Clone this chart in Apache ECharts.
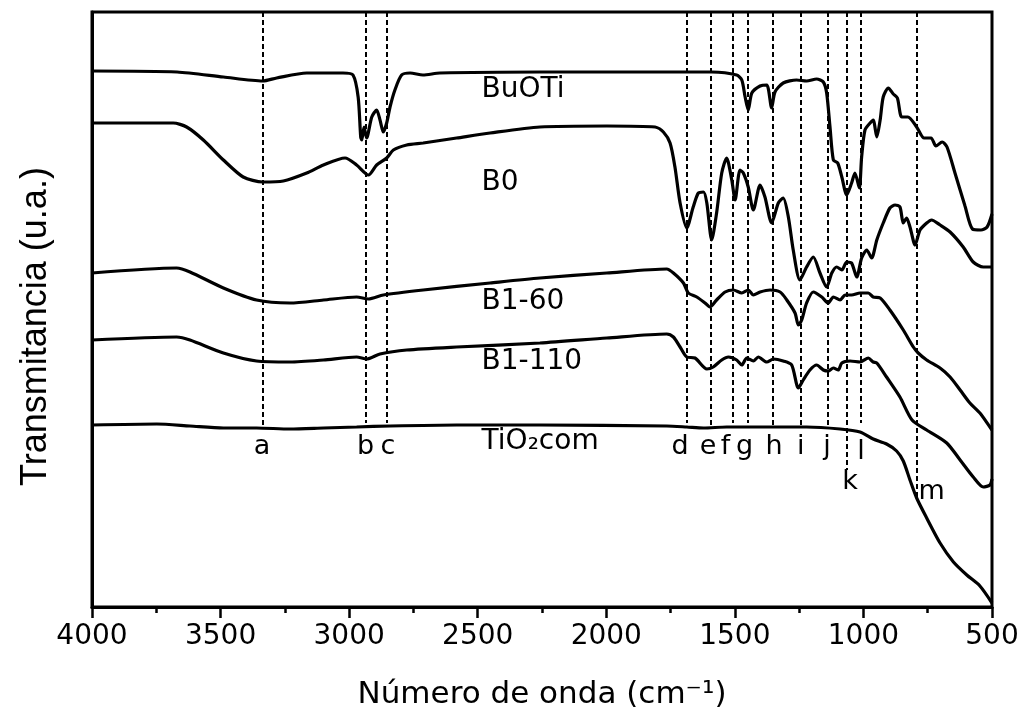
<!DOCTYPE html>
<html><head><meta charset="utf-8">
<script src="https://cdn.jsdelivr.net/npm/echarts@6/dist/echarts.min.js"></script>
<style>html,body{margin:0;padding:0;background:#fff}#c{width:1027px;height:719px}</style>
</head><body><div id="c"></div>
<script>
// ---- data (wavenumber cm-1, transmittance in arbitrary units, offset per curve) ----
const seriesNames = ['BuOTi', 'B0', 'B1-60', 'B1-110', 'TiO₂com'];

const buoti = [[4000,536],[3669,535],[3489,530],[3336,526],[3282,529],[3165,534],[3024,534],[2985,532],[2965,510],[2955,470],[2951,467],[2942,480],[2932,469],[2912,490],[2893,497],[2880,487],[2867,475],[2854,484],[2841,500],[2822,517],[2796,532],[2763,534],[2713,532],[2647,534],[2258,535],[1687,535],[1590,535],[1493,532],[1473,527],[1460,510],[1448,497],[1434,514],[1402,521],[1376,522],[1357,499],[1344,515],[1312,524],[1260,527],[1221,526],[1182,528],[1156,525],[1143,514],[1130,480],[1117,447],[1100,444],[1084,430],[1065,412],[1046,424],[1033,434],[1016,419],[1007,450],[994,477],[974,484],[962,487],[948,470],[935,487],[923,510],[903,519],[884,513],[868,509],[851,490],[827,490],[793,480],[764,469],[737,469],[718,461],[694,465],[675,460],[644,434],[605,401],[576,378],[543,377],[519,380],[500,393]];

const b0 = [[4000,484],[3684,484],[3632,480],[3567,467],[3489,447],[3412,430],[3336,425],[3256,426],[3165,434],[3100,442],[3016,449],[2971,442],[2925,432],[2893,442],[2854,449],[2828,457],[2776,462],[2712,464],[2582,469],[2452,474],[2258,480],[1998,481],[1810,480],[1778,475],[1752,464],[1733,440],[1713,404],[1687,379],[1662,400],[1642,414],[1622,415],[1609,404],[1590,367],[1571,394],[1551,434],[1532,449],[1512,427],[1499,407],[1480,437],[1467,434],[1448,420],[1428,397],[1402,422],[1383,410],[1357,384],[1331,404],[1312,409],[1292,390],[1273,357],[1247,327],[1221,340],[1195,350],[1169,334],[1143,320],[1123,334],[1104,340],[1084,337],[1065,345],[1046,344],[1026,330],[1007,349],[987,357],[968,349],[948,367],[923,384],[897,399],[877,402],[858,400],[845,384],[832,389],[819,380],[799,362],[780,377],[754,384],[735,387],[702,382],[663,375],[612,360],[573,345],[534,340],[500,340]];

const b160 = [[4000,334],[3671,339],[3619,335],[3489,319],[3360,307],[3230,304],[3100,307],[2971,310],[2925,308],[2867,312],[2712,317],[2452,324],[2258,329],[1998,334],[1765,338],[1739,334],[1700,324],[1681,314],[1648,310],[1616,304],[1597,300],[1571,307],[1538,315],[1506,317],[1473,314],[1448,317],[1428,312],[1402,315],[1363,317],[1324,315],[1298,307],[1266,294],[1253,282],[1240,287],[1221,304],[1195,315],[1162,310],[1137,304],[1117,310],[1091,307],[1071,312],[1046,312],[1013,314],[981,314],[962,310],[935,309],[897,297],[845,277],[806,260],[787,254],[754,247],[702,239],[663,230],[624,217],[586,204],[547,194],[508,180],[500,177]];

const b1110 = [[4000,267],[3671,270],[3619,267],[3489,254],[3360,246],[3230,245],[3100,247],[2971,250],[2932,248],[2880,253],[2776,257],[2582,260],[2258,264],[1998,269],[1765,273],[1739,270],[1713,260],[1687,250],[1655,249],[1609,238],[1584,240],[1551,247],[1525,250],[1493,247],[1473,242],[1454,249],[1428,246],[1409,250],[1376,245],[1350,248],[1312,246],[1279,242],[1253,219],[1234,227],[1208,237],[1182,242],[1156,237],[1137,236],[1117,239],[1098,237],[1084,244],[1052,246],[1013,245],[981,249],[962,245],[948,244],[910,230],[858,210],[811,187],[754,177],[676,164],[624,147],[573,130],[534,120],[508,122],[500,128]];

const tio2 = [[4000,182],[3748,183],[3619,181],[3489,179],[3360,179],[3230,178],[3100,179],[2971,180],[2841,181],[2582,182],[2258,182],[1765,181],[1687,180],[1622,179],[1532,180],[1350,180],[1221,180],[1091,178],[1013,175],[962,168],[910,163],[871,156],[845,146],[819,127],[793,109],[754,89],[702,64],[650,45],[598,32],[547,21],[500,4]];

// peak assignments (dashed guide lines)
const peakNames = ['a','b','c','d','e','f','g','h','i','j','k','l','m'];
const peakWn    = [3336, 2934, 2854, 1687, 1593, 1507, 1451, 1354, 1244, 1140, 1063, 1009, 793];
const peakLineEnd = [179, 184, 184, 184, 181, 184, 184, 182, 181, 180, 137, 184, 107];

// annotation anchors (data units)
const peakLabelWn = [3339, 2936, 2849, 1713, 1604, 1536, 1462, 1348, 1244, 1142, 1052, 1009, 735];
const peakLabelT  = [160, 160, 160, 160, 160, 160, 160, 160, 160, 160, 125, 155, 115];
const nameLabelWn = [2485, 2485, 2485, 2485, 2485];
const nameLabelT  = [517, 424, 305, 245, 165];

const xTicks = { min: 500, max: 4000, step: 500 };
const yRange = { min: 0, max: 595 };

// ---- chart ----
const FONT = 'DejaVu Sans';
const curves = [buoti, b0, b160, b1110, tio2];

const series = curves.map((d, i) => ({
  name: seriesNames[i],
  type: 'line',
  data: d,
  showSymbol: false,
  smooth: 0.25,
  lineStyle: { color: '#000', width: 3.2 },
  z: 3,
  silent: true
}));

series.push({
  name: 'names',
  type: 'scatter',
  symbolSize: 0,
  itemStyle: { opacity: 1, color: '#000' },
  data: seriesNames.map((n, i) => [nameLabelWn[i], nameLabelT[i], n]),
  label: { show: true, position: 'right', distance: 0, formatter: p => p.data[2],
           color: '#000', opacity: 1, fontFamily: FONT, fontSize: 28 },
  silent: true,
  z: 5
});

series.push({
  name: 'peaks',
  type: 'scatter',
  symbolSize: 0,
  itemStyle: { opacity: 1, color: '#000' },
  data: peakNames.map((n, i) => [peakLabelWn[i], peakLabelT[i], n]),
  label: { show: true, position: 'inside', formatter: p => p.data[2],
           color: '#000', opacity: 1, fontFamily: FONT, fontSize: 27 },
  silent: true,
  z: 5,
  markLine: {
    silent: true,
    symbol: ['none', 'none'],
    label: { show: false },
    lineStyle: { color: '#000', width: 2, type: [5, 3], opacity: 1 },
    data: peakWn.map((w, i) => [{ coord: [w, yRange.max] }, { coord: [w, peakLineEnd[i]] }]),
    animation: false
  }
});

const option = {
  animation: false,
  backgroundColor: '#fff',
  grid: { left: 92, right: 35, top: 12, bottom: 112, show: true, borderColor: '#000', borderWidth: 3,
          containLabel: false },
  xAxis: {
    type: 'value', inverse: true, min: xTicks.min, max: xTicks.max, interval: xTicks.step,
    axisLine: { show: true, lineStyle: { color: '#000', width: 3 } },
    axisTick: { show: true, inside: false, length: 11, lineStyle: { color: '#000', width: 2.5 } },
    minorTick: { show: true, splitNumber: 2, length: 6, lineStyle: { color: '#000', width: 2.5 } },
    splitLine: { show: false },
    axisLabel: { show: true, color: '#000', fontFamily: FONT, fontSize: 28, margin: 16,
                 showMinLabel: true, showMaxLabel: true, formatter: v => String(v) },
    name: 'Número de onda (cm⁻¹)', nameLocation: 'middle', nameGap: 72,
    nameTextStyle: { color: '#000', fontFamily: FONT, fontSize: 31 }
  },
  yAxis: {
    type: 'value', min: yRange.min, max: yRange.max,
    axisLine: { show: true, lineStyle: { color: '#000', width: 3 } },
    axisTick: { show: false }, axisLabel: { show: false }, splitLine: { show: false },
    name: 'Transmitancia (u.a.)', nameLocation: 'middle', nameGap: 38,
    nameTextStyle: { color: '#000', fontFamily: 'Liberation Sans', fontSize: 36, padding: [0, 34, 0, 0] }
  },
  series
};

const chart = echarts.init(document.getElementById('c'), null, { renderer: 'canvas' });
chart.setOption(option);
</script></body></html>
